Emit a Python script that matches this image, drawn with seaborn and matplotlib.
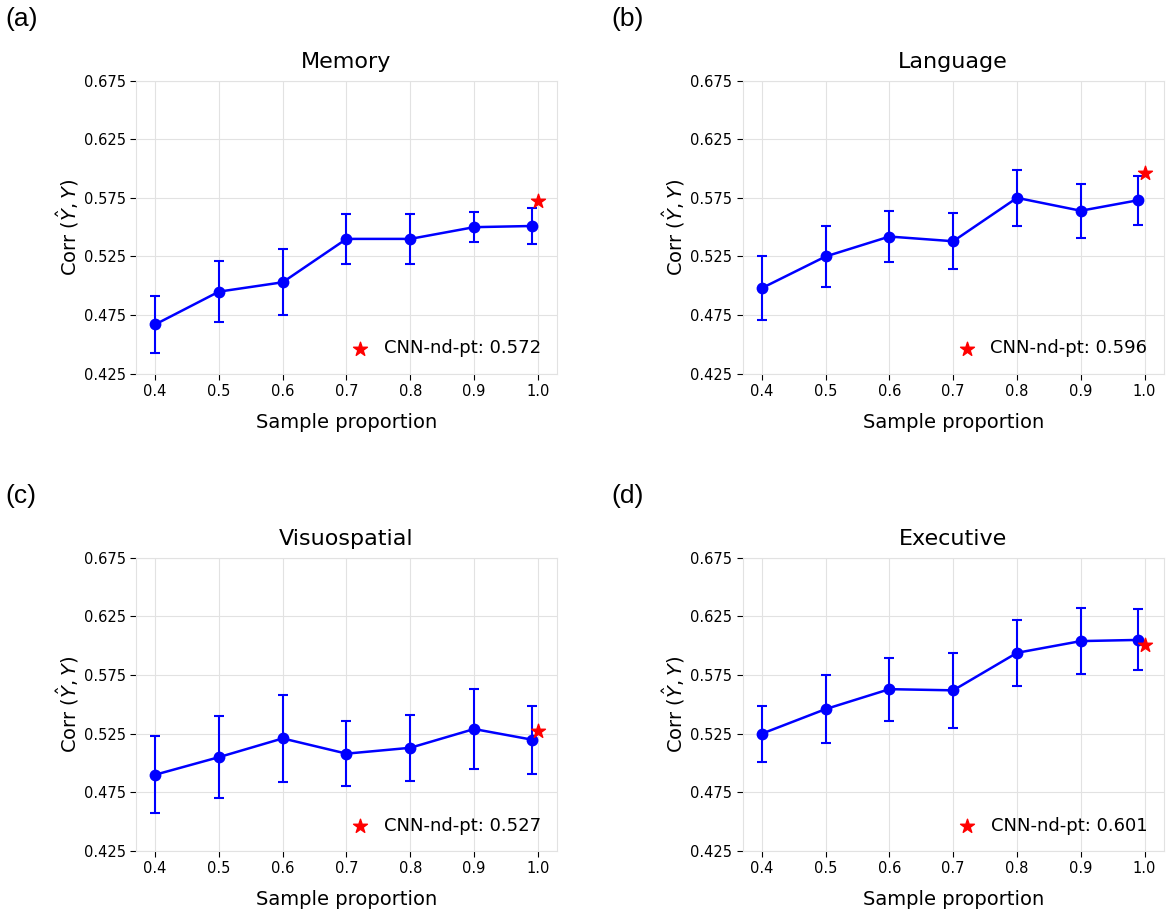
import numpy as np
import pandas as pd
import matplotlib
matplotlib.use("Agg")
import matplotlib.pyplot as plt
import seaborn as sns

# ======================================================
# DATA
# ======================================================
proportions = [0.4, 0.5, 0.6, 0.7, 0.8, 0.9, 0.99]
tick_labels = ["0.4", "0.5", "0.6", "0.7", "0.8", "0.9", "1.0"]
domains = ["Memory", "Language", "Visuospatial", "Executive"]
panel_tags = ["(a)", "(b)", "(c)", "(d)"]

memory_mean = [0.467, 0.495, 0.503, 0.540, 0.540, 0.550, 0.551]
memory_err = [0.024, 0.026, 0.028, 0.021, 0.021, 0.013, 0.015]

language_mean = [0.498, 0.525, 0.542, 0.538, 0.575, 0.564, 0.573]
language_err = [0.027, 0.026, 0.022, 0.024, 0.024, 0.023, 0.021]

visuo_mean = [0.490, 0.505, 0.521, 0.508, 0.513, 0.529, 0.520]
visuo_err = [0.033, 0.035, 0.037, 0.028, 0.028, 0.034, 0.029]

exec_mean = [0.525, 0.546, 0.563, 0.562, 0.594, 0.604, 0.605]
exec_err = [0.024, 0.029, 0.027, 0.032, 0.028, 0.028, 0.026]

cnn_baseline = [0.572, 0.596, 0.527, 0.601]

means = [memory_mean, language_mean, visuo_mean, exec_mean]
errs = [memory_err, language_err, visuo_err, exec_err]

# ======================================================
# STYLE
# ======================================================
sns.set_style("whitegrid", {
    "axes.edgecolor": "#e2e2e2",
    "grid.color": "#e2e2e2",
    "xtick.bottom": True,
    "ytick.left": True,
    "text.color": "black",
    "axes.labelcolor": "black",
    "xtick.color": "black",
    "ytick.color": "black",
})
plt.rcParams["font.family"] = "sans-serif"
plt.rcParams["font.sans-serif"] = ["DejaVu Sans"]
plt.rcParams["xtick.major.size"] = 4
plt.rcParams["ytick.major.size"] = 4

fig = plt.figure(figsize=(11.69, 9.16), dpi=100)
lefts = [0.1163, 0.6353, 0.1163, 0.6353]
bottoms = [0.592, 0.592, 0.071, 0.071]
w, h = 0.3602, 0.320
ytick_vals = [0.425, 0.475, 0.525, 0.575, 0.625, 0.675]

for i, name in enumerate(domains):
    ax = fig.add_axes([lefts[i], bottoms[i], w, h])
    df = pd.DataFrame({"prop": proportions, "corr": means[i]})
    sns.lineplot(data=df, x="prop", y="corr", ax=ax, color="#0000ff",
                 marker="o", markersize=8.5, markeredgewidth=0, linewidth=1.8)
    ax.errorbar(proportions, means[i], yerr=errs[i], fmt="none",
                ecolor="#0000ff", elinewidth=1.5, capsize=3.5, capthick=1.5)
    ax.scatter([1.0], [cnn_baseline[i]], marker="*", s=110, color="red",
               zorder=5, label=f"CNN-nd-pt: {cnn_baseline[i]:.3f}")

    ax.set_xlim(0.37, 1.03)
    ax.set_ylim(0.425, 0.675)
    ax.set_xticks([0.4, 0.5, 0.6, 0.7, 0.8, 0.9, 1.0])
    ax.set_xticklabels(tick_labels)
    ax.set_yticks(ytick_vals)
    ax.set_yticklabels([f"{v:.3f}" for v in ytick_vals])
    ax.tick_params(labelsize=10.5, colors="black")
    ax.set_title(name, fontsize=16, pad=9, color="black")
    ax.set_xlabel("Sample proportion", fontsize=14, labelpad=10, color="black")
    ax.set_ylabel(r"Corr ($\hat{Y}, Y$)", fontsize=14, labelpad=2, color="black")
    leg = ax.legend(loc="lower right", frameon=False, fontsize=13,
                    handletextpad=0.3, borderaxespad=0.5)
    for t in leg.get_texts():
        t.set_color("black")

    fig.text(lefts[i] - 0.112, bottoms[i] + h + 0.067, panel_tags[i],
             fontsize=19, family=["Liberation Sans", "DejaVu Sans"],
             ha="left", va="center", color="black")

fig.savefig("out.png", dpi=100)
plt.close()
